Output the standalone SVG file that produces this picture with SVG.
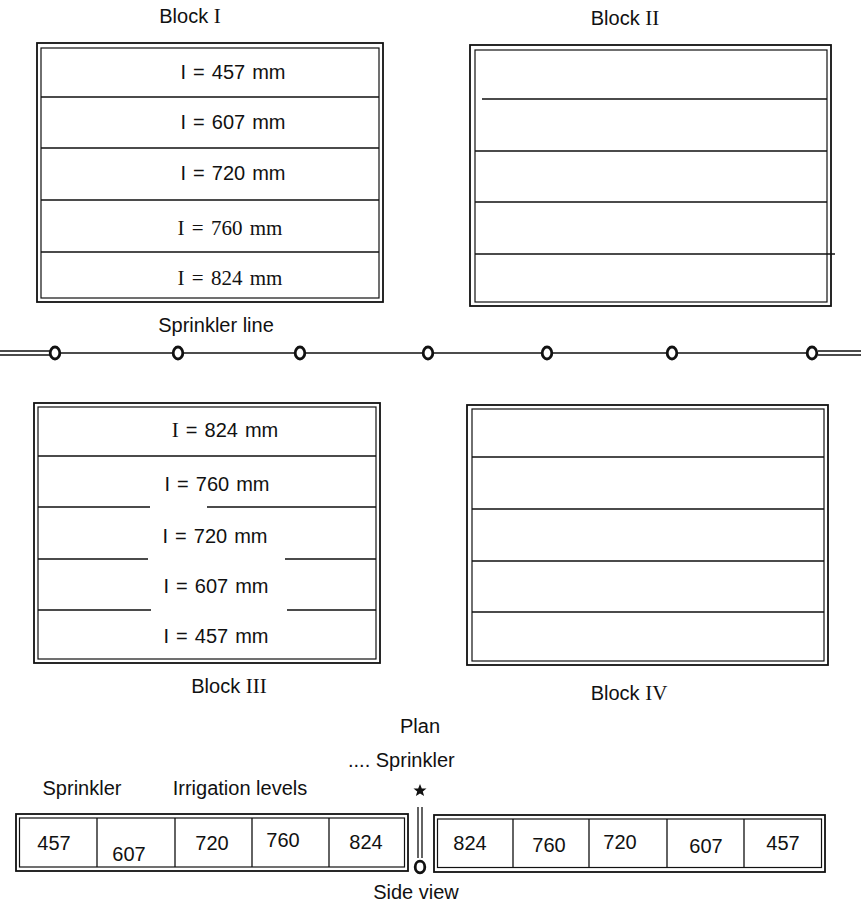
<svg xmlns="http://www.w3.org/2000/svg" width="861" height="911" viewBox="0 0 861 911">
<style>
  .t { font-family: "Liberation Sans", Arial, sans-serif; font-size: 20px; fill: #111; }
  .s { font-family: "Liberation Serif", "Times New Roman", serif; font-size: 21px; fill: #111; }
  .c { text-anchor: middle; }
  .o { fill: none; stroke: #111; stroke-width: 1.8; }
  .i { fill: none; stroke: #111; stroke-width: 1.2; }
  .ln { stroke: #111; stroke-width: 1.3; fill: none; }
  .sp { fill: #fff; stroke: #111; stroke-width: 2.8; }
</style>
<rect width="861" height="911" fill="#fff"/>

<g id="block1">
  <text class="t c" x="190" y="23">Block <tspan class="s">I</tspan></text>
  <rect class="o" x="37" y="43" width="346" height="259"/>
  <rect class="i" x="41" y="48" width="338" height="250"/>
  <path class="ln" d="M41 97H379M41 148H379M41 200H379M41 252H379"/>
  <text class="t c" x="233" y="79" word-spacing="1.5">I = 457 mm</text>
  <text class="t c" x="233" y="129" word-spacing="1.5">I = 607 mm</text>
  <text class="t c" x="233" y="180" word-spacing="1.5">I = 720 mm</text>
  <text class="s c" x="230" y="235" word-spacing="2">I = 760 mm</text>
  <text class="s c" x="230" y="285" word-spacing="2">I = 824 mm</text>
</g>

<g id="block2">
  <text class="t c" x="625" y="25">Block <tspan class="s">II</tspan></text>
  <rect class="o" x="470" y="45" width="361" height="261"/>
  <rect class="i" x="475" y="50" width="352" height="252"/>
  <path class="ln" d="M482 99H827M475 151H827M475 202H827M475 254H835"/>
</g>

<g id="connectors">
  <path class="ln" d="M0 351H50M0 355H50M818 351H861M818 355H861"/>
  <path class="ln" stroke-width="1.6" d="M50 353H818"/>
</g>

<g id="sprinkler-line">
  <text class="t c" x="216" y="332">Sprinkler line</text>
  <ellipse class="sp" cx="55" cy="353" rx="4.8" ry="6"/>
  <ellipse class="sp" cx="178" cy="353" rx="4.8" ry="6"/>
  <ellipse class="sp" cx="300" cy="353" rx="4.8" ry="6"/>
  <ellipse class="sp" cx="428" cy="353" rx="4.8" ry="6"/>
  <ellipse class="sp" cx="547" cy="353" rx="4.8" ry="6"/>
  <ellipse class="sp" cx="672" cy="353" rx="4.8" ry="6"/>
  <ellipse class="sp" cx="812" cy="353" rx="4.8" ry="6"/>
</g>

<g id="block3">
  <rect class="o" x="34" y="403" width="346" height="260"/>
  <rect class="i" x="38" y="407" width="338" height="252"/>
  <path class="ln" d="M38 456H376M38 507H150M207 507H376M38 559H148M285 559H376M38 610H151M287 610H376"/>
  <text class="t c" x="225" y="437" word-spacing="1.5"><tspan class="s">I</tspan> = 824 mm</text>
  <text class="t c" x="217" y="491" word-spacing="1.5">I = 760 mm</text>
  <text class="t c" x="215" y="543" word-spacing="1.5">I = 720 mm</text>
  <text class="t c" x="216" y="593" word-spacing="1.5">I = 607 mm</text>
  <text class="t c" x="216" y="643" word-spacing="1.5">I = 457 mm</text>
  <text class="t c" x="229" y="693">Block <tspan class="s">III</tspan></text>
</g>

<g id="block4">
  <rect class="o" x="467" y="405" width="361" height="260"/>
  <rect class="i" x="472" y="409" width="352" height="252"/>
  <path class="ln" d="M472 457H824M472 509H824M472 561H824M472 612H824"/>
  <text class="t c" x="629" y="700">Block <tspan class="s">IV</tspan></text>
</g>

<text class="t c" x="420" y="733">Plan</text>

<g id="side-view">
  <text class="t" x="348" y="767">.... Sprinkler</text>
  <text class="t c" x="82" y="795">Sprinkler</text>
  <text class="t c" x="240" y="795">Irrigation levels</text>
  <path d="M420 784L421.8 788.4L426.5 788.6L422.8 791.5L424.1 796L420 793.4L415.9 796L417.2 791.5L413.5 788.6L418.2 788.4Z" fill="#111"/>
  <path class="ln" d="M418 807V858M422 807V858"/>
  <ellipse class="sp" cx="420" cy="867" rx="4.8" ry="5.8"/>
  <text class="t c" x="416" y="899">Side view</text>
</g>

<g id="left-strip">
  <rect class="o" x="16" y="814" width="392" height="57"/>
  <rect class="i" x="19.5" y="818" width="385" height="49"/>
  <path class="ln" d="M97 818V867M175 818V867M252 818V867M329 818V867"/>
  <text class="t c" x="54" y="850">457</text>
  <text class="t c" x="129" y="861">607</text>
  <text class="t c" x="212" y="850">720</text>
  <text class="t c" x="283" y="847">760</text>
  <text class="t c" x="366" y="849">824</text>
</g>

<g id="right-strip">
  <rect class="o" x="434" y="815" width="391" height="57"/>
  <rect class="i" x="437.5" y="819" width="384" height="48.5"/>
  <path class="ln" d="M513 819V867M589 819V867M667 819V867M744 819V867"/>
  <text class="t c" x="470" y="850">824</text>
  <text class="t c" x="549" y="852">760</text>
  <text class="t c" x="620" y="849">720</text>
  <text class="t c" x="706" y="853">607</text>
  <text class="t c" x="783" y="850">457</text>
</g>
</svg>
